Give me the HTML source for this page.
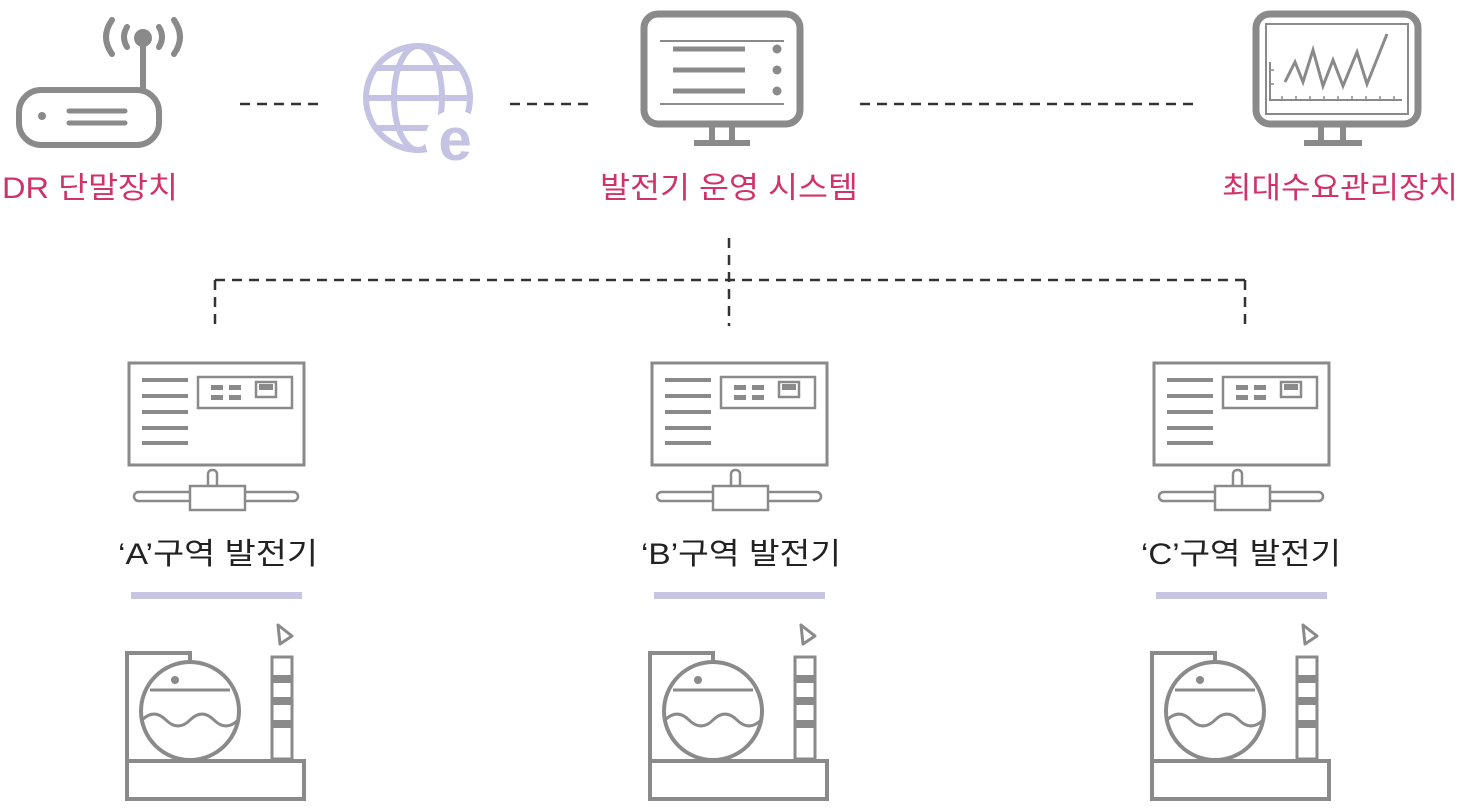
<!DOCTYPE html>
<html><head><meta charset="utf-8"><style>
html,body{margin:0;padding:0;background:#fff;}
svg{display:block}
text{font-family:"Liberation Sans","Noto Sans CJK KR","NanumGothic",sans-serif;}
</style></head><body>
<svg width="1466" height="810" viewBox="0 0 1466 810" xmlns="http://www.w3.org/2000/svg">
<defs>
<g id="pc">
 <rect x="129" y="363" width="175" height="102" fill="none" stroke="#8a8a8a" stroke-width="3"/>
 <g stroke="#8a8a8a" stroke-width="4"><line x1="142" y1="380" x2="188" y2="380"/><line x1="142" y1="396" x2="188" y2="396"/><line x1="142" y1="412" x2="188" y2="412"/><line x1="142" y1="428" x2="188" y2="428"/><line x1="142" y1="443" x2="188" y2="443"/></g>
 <rect x="198" y="377" width="94" height="31" fill="none" stroke="#8a8a8a" stroke-width="2.5"/>
 <g fill="#8a8a8a"><rect x="211" y="385" width="12" height="5"/><rect x="229" y="385" width="12" height="5"/><rect x="211" y="395" width="12" height="5"/><rect x="229" y="395" width="12" height="5"/></g>
 <rect x="256" y="382" width="20" height="15" fill="none" stroke="#8a8a8a" stroke-width="2.5"/><rect x="259" y="384" width="14" height="6" fill="#8a8a8a"/>
 <rect x="208" y="470" width="9" height="20" rx="4" fill="none" stroke="#8a8a8a" stroke-width="2.5"/>
 <rect x="134" y="492" width="164" height="9" rx="4.5" fill="#fff" stroke="#8a8a8a" stroke-width="2.5"/>
 <rect x="190" y="486" width="55" height="24" fill="#fff" stroke="#8a8a8a" stroke-width="2.5"/>
 <rect x="131" y="592" width="171" height="7" fill="#c8c5e3"/>
 <path d="M127 800 V653 H190 V664" fill="none" stroke="#8a8a8a" stroke-width="4"/>
 <circle cx="190" cy="711" r="49" fill="#fff" stroke="#8a8a8a" stroke-width="4"/>
 <circle cx="175" cy="680" r="4" fill="#8a8a8a"/>
 <line x1="150" y1="690" x2="230" y2="690" stroke="#8a8a8a" stroke-width="3"/>
 <path d="M142 720 q12 -12 24 0 t24 0 t24 0 t24 0" fill="none" stroke="#8a8a8a" stroke-width="3"/>
 <rect x="272" y="657" width="20" height="102" fill="#fff" stroke="#8a8a8a" stroke-width="3"/>
 <g fill="#8a8a8a"><rect x="272" y="675" width="20" height="8"/><rect x="272" y="697" width="20" height="8"/><rect x="272" y="720" width="20" height="8"/></g>
 <path d="M278 625 L292 636 L280 644 Z" fill="none" stroke="#8a8a8a" stroke-width="3" stroke-linejoin="round"/>
 <rect x="127" y="761" width="177" height="38" fill="#fff" stroke="#8a8a8a" stroke-width="4"/>
</g>
</defs>

<g stroke="#8a8a8a" fill="none" stroke-width="6" stroke-linecap="round">
 <rect x="19" y="90" width="140" height="55" rx="22"/>
 <line x1="143" y1="42" x2="143" y2="90"/>
 <path d="M112 20 q-12 17 0 34"/><path d="M127 27 q-6 10 0 20"/>
 <path d="M174 20 q12 17 0 34"/><path d="M159 27 q6 10 0 20"/>
 <line x1="69" y1="111" x2="125" y2="111" stroke-width="5"/><line x1="69" y1="123" x2="125" y2="123" stroke-width="5"/>
</g>
<circle cx="143" cy="38" r="9" fill="#8a8a8a"/>
<circle cx="42" cy="116" r="4" fill="#8a8a8a"/>

<g stroke="#c5c3e3" fill="none" stroke-width="6">
 <circle cx="418" cy="98" r="52"/>
 <ellipse cx="418" cy="98" rx="24" ry="52"/>
 <line x1="366" y1="98" x2="470" y2="98"/>
 <path d="M376 68 h84 M376 128 h84"/>
</g>
<circle cx="455" cy="140" r="30" fill="#fff"/>
<text x="455" y="160" font-size="60" font-weight="bold" fill="#c5c3e3" text-anchor="middle">e</text>

<g stroke="#333" stroke-width="2.5" stroke-dasharray="10 7">
 <line x1="240" y1="104" x2="322" y2="104"/>
 <line x1="510" y1="104" x2="592" y2="104"/>
 <line x1="860" y1="104" x2="1198" y2="104"/>
 <line x1="729" y1="238" x2="729" y2="326"/>
 <line x1="215" y1="280" x2="1245" y2="280"/>
 <line x1="215" y1="280" x2="215" y2="326"/>
 <line x1="1245" y1="280" x2="1245" y2="326"/>
</g>

<g stroke="#8a8a8a" fill="none">
 <rect x="644" y="14" width="156" height="110" rx="14" stroke-width="7"/>
 <line x1="660" y1="41" x2="784" y2="41" stroke-width="2"/>
 <line x1="660" y1="104" x2="784" y2="104" stroke-width="2"/>
 <g stroke-width="5"><line x1="673" y1="49" x2="745" y2="49"/><line x1="673" y1="70" x2="745" y2="70"/><line x1="673" y1="91" x2="745" y2="91"/></g>
 <line x1="712" y1="126" x2="712" y2="142" stroke-width="6"/><line x1="732" y1="126" x2="732" y2="142" stroke-width="6"/>
 <line x1="694" y1="143" x2="750" y2="143" stroke-width="6"/>
</g>
<g fill="#8a8a8a"><circle cx="777" cy="49" r="4.5"/><circle cx="777" cy="70" r="4.5"/><circle cx="777" cy="91" r="4.5"/></g>

<g stroke="#8a8a8a" fill="none">
 <rect x="1256" y="14" width="162" height="110" rx="14" stroke-width="7"/>
 <rect x="1266" y="24" width="142" height="90" stroke-width="2"/>
 <path d="M1270 62 V100 H1402" stroke-width="2"/>
 <path d="M1270 70 h4 M1270 84 h4 M1282 100 v-4 M1296 100 v-4 M1310 100 v-4 M1324 100 v-4 M1338 100 v-4 M1352 100 v-4 M1366 100 v-4 M1380 100 v-4 M1394 100 v-4" stroke-width="1.5"/>
 <path d="M1285 82 l10 -20 l8 20 l10 -32 l10 36 l10 -26 l10 26 l14 -34 l10 32 l20 -50" stroke-width="3"/>
 <line x1="1321" y1="126" x2="1321" y2="142" stroke-width="6"/><line x1="1343" y1="126" x2="1343" y2="142" stroke-width="6"/>
 <line x1="1304" y1="143" x2="1362" y2="143" stroke-width="6"/>
</g>

<g font-size="30" fill="#d0326a">
 <text x="2" y="198" textLength="176" lengthAdjust="spacingAndGlyphs">DR 단말장치</text>
 <text x="600" y="198" textLength="258" lengthAdjust="spacingAndGlyphs">발전기 운영 시스템</text>
 <text x="1222" y="198" textLength="236" lengthAdjust="spacingAndGlyphs">최대수요관리장치</text>
</g>

<use href="#pc"/>
<use href="#pc" transform="translate(523,0)"/>
<use href="#pc" transform="translate(1025,0)"/>

<g font-size="30" fill="#222">
 <text x="118" y="564" textLength="200" lengthAdjust="spacingAndGlyphs">‘A’구역 발전기</text>
 <text x="641" y="564" textLength="200" lengthAdjust="spacingAndGlyphs">‘B’구역 발전기</text>
 <text x="1141" y="564" textLength="200" lengthAdjust="spacingAndGlyphs">‘C’구역 발전기</text>
</g>
</svg>
</body></html>
